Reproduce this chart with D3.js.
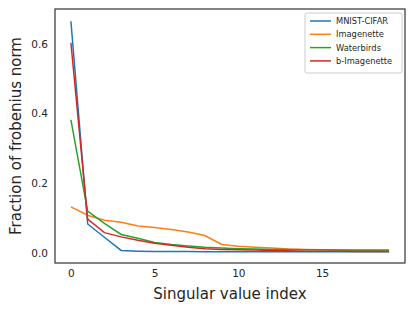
<!DOCTYPE html>
<html>
<head>
<meta charset="utf-8">
<script src="https://cdn.jsdelivr.net/npm/d3@7"></script>
<style>
  body { margin: 0; background: #fff; }
  svg { font-family: "DejaVu Sans", sans-serif; }
</style>
</head>
<body>
<svg id="chart" width="415" height="311"></svg>
<script>
// series, index 0..19
const seriesNames = ["MNIST-CIFAR", "Imagenette", "Waterbirds", "b-Imagenette"];
const seriesColors = ["#1f77b4", "#ff7f0e", "#2ca02c", "#d62728"];
const mnistCifar = [0.665, 0.083, 0.045, 0.007, 0.005, 0.004, 0.004, 0.004, 0.0035, 0.0035,
                    0.003, 0.003, 0.003, 0.003, 0.003, 0.003, 0.003, 0.003, 0.003, 0.003];
const imagenette = [0.132, 0.108, 0.094, 0.088, 0.077, 0.073, 0.067, 0.060, 0.050, 0.024,
                    0.019, 0.016, 0.014, 0.011, 0.010, 0.009, 0.008, 0.007, 0.007, 0.006];
const waterbirds = [0.382, 0.120, 0.085, 0.053, 0.042, 0.030, 0.024, 0.020, 0.016, 0.014,
                    0.012, 0.011, 0.010, 0.010, 0.009, 0.009, 0.008, 0.008, 0.008, 0.008];
const bImagenette = [0.603, 0.097, 0.058, 0.046, 0.036, 0.028, 0.022, 0.016, 0.012, 0.010,
                     0.009, 0.008, 0.007, 0.006, 0.005, 0.005, 0.005, 0.004, 0.004, 0.004];
const xTicks = [0, 5, 10, 15];
const yTicks = [0.0, 0.2, 0.4, 0.6];

const allSeries = [mnistCifar, imagenette, waterbirds, bImagenette];

const svg = d3.select("#chart");
const plotLeft = 55, plotRight = 405, plotTop = 9, plotBottom = 263;

let xScale = d3.scaleLinear()
    .domain([-0.95, 19.95])
    .range([plotLeft, plotRight]);

let yScale = d3.scaleLinear()
    .domain([-0.029, 0.70])
    .range([plotBottom, plotTop]);

// frame
svg.append("rect")
    .attr("x", plotLeft)
    .attr("y", plotTop)
    .attr("width", plotRight - plotLeft)
    .attr("height", plotBottom - plotTop)
    .style("fill", "none")
    .style("stroke", "#333")
    .style("stroke-width", 1.2);

// tick labels, no tick marks
svg.append("g")
    .attr("transform", `translate(0, ${plotBottom})`)
    .call(d3.axisBottom(xScale).tickValues(xTicks).tickSize(0).tickPadding(7).tickFormat(d3.format("d")))
    .call(g => g.select(".domain").remove())
    .selectAll("text")
    .style("font-size", "10.5px")
    .style("font-family", "DejaVu Sans")
    .style("fill", "#262626");

svg.append("g")
    .attr("transform", `translate(${plotLeft}, 0)`)
    .call(d3.axisLeft(yScale).tickValues(yTicks).tickSize(0).tickPadding(7).tickFormat(d3.format(".1f")))
    .call(g => g.select(".domain").remove())
    .selectAll("text")
    .style("font-size", "10.5px")
    .style("font-family", "DejaVu Sans")
    .style("fill", "#262626");

// axis labels
svg.append("text")
    .attr("x", (plotLeft + plotRight) / 2)
    .attr("y", 299)
    .attr("text-anchor", "middle")
    .style("font-size", "15px")
    .style("fill", "#262626")
    .text("Singular value index");

svg.append("text")
    .attr("transform", `translate(21, ${(plotTop + plotBottom) / 2}) rotate(-90)`)
    .attr("text-anchor", "middle")
    .style("font-size", "15px")
    .style("fill", "#262626")
    .text("Fraction of frobenius norm");

// lines
let line = d3.line()
    .x((d, i) => xScale(i))
    .y(d => yScale(d));

allSeries.forEach((values, k) => {
    svg.append("path")
        .datum(values)
        .attr("fill", "none")
        .attr("stroke", seriesColors[k])
        .attr("stroke-width", 1.5)
        .attr("d", line);
});

// legend
let legend = svg.append("g").attr("transform", "translate(305, 13)");
legend.append("rect")
    .attr("width", 97)
    .attr("height", 60)
    .attr("rx", 2)
    .style("fill", "#fff")
    .style("fill-opacity", 0.8)
    .style("stroke", "#ccc")
    .style("stroke-width", 1);

seriesNames.forEach((name, k) => {
    let yy = 8 + k * 13.3;
    legend.append("line")
        .attr("x1", 5).attr("x2", 26)
        .attr("y1", yy).attr("y2", yy)
        .attr("stroke", seriesColors[k])
        .attr("stroke-width", 1.5);
    legend.append("text")
        .attr("x", 31)
        .attr("y", yy)
        .attr("dy", "0.35em")
        .style("font-size", "8.3px")
        .style("fill", "#262626")
        .text(name);
});
</script>
</body>
</html>
